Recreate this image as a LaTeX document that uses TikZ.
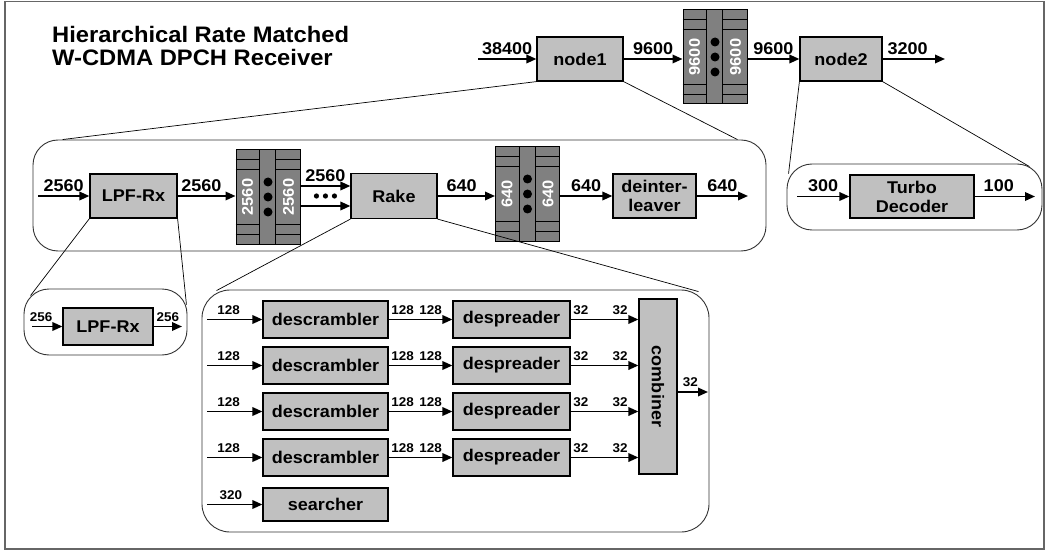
\documentclass[tikz,border=0pt]{standalone}
\usepackage{fontspec}
\setmainfont[FakeStretch=1.06]{Liberation Sans}
\usepackage{graphicx}
\usetikzlibrary{arrows.meta,calc}

\definecolor{blkgray}{HTML}{C0C0C0}
\definecolor{bufgray}{HTML}{808080}

\tikzset{
  blk/.style={draw, fill=blkgray, line width=1.2pt, inner sep=0pt, align=center,
    font=\fontsize{17}{19}\selectfont\bfseries},
  bufbox/.style={draw, fill=bufgray, line width=1pt, inner sep=0pt,
    minimum width=64pt, minimum height=94pt},
  bufline/.style={line width=0.8pt},
  buftext/.style={rotate=90, text=white, inner sep=0pt, font=\fontsize{15.5}{15.5}\selectfont\bfseries},
  zoombox/.style={draw=black!80, line width=0.9pt, rounded corners=#1, inner sep=0pt},
  zoombox/.default=25pt,
  flow/.style={-{Triangle[length=10pt,width=8.5pt]}, line width=1.8pt},
  rate/.style={above, inner sep=3.5pt, font=\fontsize{17}{17}\selectfont\bfseries},
  srate/.style={above, inner sep=4pt, font=\fontsize{12.7}{12.7}\selectfont\bfseries},
  zoomline/.style={line width=0.7pt},
}

% rate buffer: name, position, rate
\newcommand{\ratebuf}[3]{%
  \node[bufbox] (#1) at (#2) {};
  \draw[bufline] ($(#1.north west)+(24,0)$) -- ($(#1.south west)+(24,0)$);
  \draw[bufline] ($(#1.north west)+(40,0)$) -- ($(#1.south west)+(40,0)$);
  \foreach \dy in {10,20} {
    \draw[bufline] ($(#1.north west)+(0,\dy)$) -- ++(24,0);
    \draw[bufline] ($(#1.north west)+(40,\dy)$) -- ++(24,0);
    \draw[bufline] ($(#1.south west)+(0,-\dy)$) -- ++(24,0);
    \draw[bufline] ($(#1.south west)+(40,-\dy)$) -- ++(24,0);
  }
  \node[buftext] at ($(#1.west)+(12,0)$) {#3};
  \node[buftext] at ($(#1.east)+(-12,0)$) {#3};
  \foreach \dy in {-15,0,15}
    \fill ($(#1.center)+(0,\dy)$) circle[radius=4.5pt];
}

\begin{document}
\begin{tikzpicture}[x=1pt, y=-1pt]
  \useasboundingbox (0,0) rectangle (1048,553);
  \draw[black!60, line width=1.2pt] (5,1.5) rectangle (1044,549);

  % --- TITLE ---
  \node[anchor=north west, align=left, inner sep=0pt,
    font=\fontsize{22.4}{23.5}\selectfont\bfseries] (title) at (52,26)
    {Hierarchical Rate Matched\\W-CDMA DPCH Receiver};

  % --- TOP LEVEL ---
  \coordinate (in1) at (478,59);
  \node[blk, minimum width=86pt, minimum height=44pt] (node1) at (580,59) {node1};
  \ratebuf{buf1}{715,57}{9600}
  \node[blk, minimum width=82pt, minimum height=44pt] (node2) at (841,59) {node2};
  \coordinate (out1) at (945,59);

  \draw[flow] (in1) -- node[rate]{38400} (node1);
  \draw[flow] (node1) -- node[rate]{9600} (node1 -| buf1.west);
  \draw[flow] (node1 -| buf1.east) -- node[rate]{9600} (node2);
  \draw[flow] (node2) -- node[rate, pos=0.4]{3200} (out1);

  % --- NODE1 EXPANDED ---
  \node[zoombox, minimum width=733pt, minimum height=111pt] (lvl1) at (399.5,195.5) {};
  \coordinate (in2) at (38,196);
  \node[blk, minimum width=87pt, minimum height=44pt] (lpf) at (133.5,196) {LPF-Rx};
  \ratebuf{buf2}{268,197}{2560}
  \node[blk, minimum width=86pt, minimum height=45pt] (rake) at (394,196) {Rake};
  \ratebuf{buf3}{527.5,194}{640}
  \node[blk, minimum width=83pt, minimum height=44pt] (deint) at (654.5,196) {deinter-\\leaver};
  \coordinate (out2) at (748,196);

  \draw[flow] (in2) -- node[rate]{2560} (lpf);
  \draw[flow] (lpf) -- node[rate, pos=0.41]{2560} (lpf -| buf2.west);
  \draw[flow] ($(buf2.east |- rake)+(0,-10)$) -- node[rate]{2560} ($(rake.west)+(0,-10)$);
  \draw[flow] ($(buf2.east |- rake)+(0,10)$) -- ($(rake.west)+(0,10)$);
  \foreach \dx in {-9,0,9}
    \fill ($(buf2.east |- rake)!0.5!(rake.west)+(\dx,0)$) circle[radius=2.6pt];
  \draw[flow] (rake) -- node[rate, pos=0.42]{640} (rake -| buf3.west);
  \draw[flow] (rake -| buf3.east) -- node[rate]{640} (deint);
  \draw[flow] (deint) -- node[rate]{640} (out2);

  % --- NODE2 EXPANDED ---
  \node[zoombox, minimum width=255pt, minimum height=66pt] (lvl2) at (914.5,197) {};
  \coordinate (in3) at (797,196.5);
  \node[blk, minimum width=124pt, minimum height=43pt] (turbo) at (912,196.5) {Turbo\\Decoder};
  \coordinate (out3) at (1035,196.5);
  \draw[flow] (in3) -- node[rate]{300} (turbo);
  \draw[flow] (turbo) -- node[rate, pos=0.4]{100} (out3);

  % --- LPF-RX EXPANDED ---
  \node[zoombox, minimum width=163pt, minimum height=66pt] (lvl3) at (105.5,322) {};
  \coordinate (in4) at (32,326.5);
  \node[blk, minimum width=90pt, minimum height=37pt] (lpfs) at (108,326.5) {LPF-Rx};
  \coordinate (out4) at (182,326.5);
  \draw[flow] (in4) -- node[srate, pos=0.3]{256} (lpfs);
  \draw[flow] (lpfs) -- node[srate]{256} (out4);

  % --- RAKE EXPANDED ---
  \node[zoombox=28pt, minimum width=507pt, minimum height=242pt] (lvl4) at (455.5,411) {};
  \node[blk, minimum width=38pt, minimum height=175pt] (comb) at (658,386.5) {\rotatebox{-90}{combiner}};
  \foreach \i/\y in {1/319.5, 2/365.5, 3/411.5, 4/457.5} {
    \coordinate (rin\i) at (207,\y);
    \node[blk, minimum width=125pt, minimum height=37pt] (desc\i) at (325.5,\y) {descrambler};
    \node[blk, minimum width=117pt, minimum height=37pt] (desp\i) at (511.5,\y) {despreader};
    \draw[flow] (rin\i) -- node[srate, pos=0.39]{128} (desc\i);
    \draw[flow] (desc\i) -- node[srate, pos=0.22]{128} node[srate, pos=0.66]{128} (desp\i);
    \draw[flow] (desp\i) -- node[srate, pos=0.15]{32} node[srate, pos=0.73]{32} (desp\i -| comb.west);
  }
  \coordinate (rin5) at (207,504.5);
  \node[blk, minimum width=125pt, minimum height=33pt] (search) at (325.5,504.5) {searcher};
  \draw[flow] (rin5) -- node[srate, pos=0.43]{320} (search);
  \coordinate (rout) at (708,392);
  \draw[flow] (comb.east |- rout) -- node[srate, pos=0.42]{32} (rout);

  % --- ZOOM LINES ---
  \draw[zoomline] (node1.south west) -- ($(lvl1.north west)+(30,0)$);
  \draw[zoomline] (node1.south east) -- ($(lvl1.north east)+(-29,0)$);
  \draw[zoomline] (node2.south west) -- ($(lvl2.north west)+(2,10)$);
  \draw[zoomline] (node2.south east) -- ($(lvl2.north east)+(-13,3)$);
  \draw[zoomline] (lpf.south west) -- ($(lvl3.north west)+(7,7)$);
  \draw[zoomline] (lpf.south east) -- ($(lvl3.north east)+(-1,16)$);
  \draw[zoomline] (rake.south west) -- ($(lvl4.north west)+(15,1)$);
  \draw[zoomline] (rake.south east) -- ($(lvl4.north east)+(-11,2)$);
\end{tikzpicture}
\end{document}
